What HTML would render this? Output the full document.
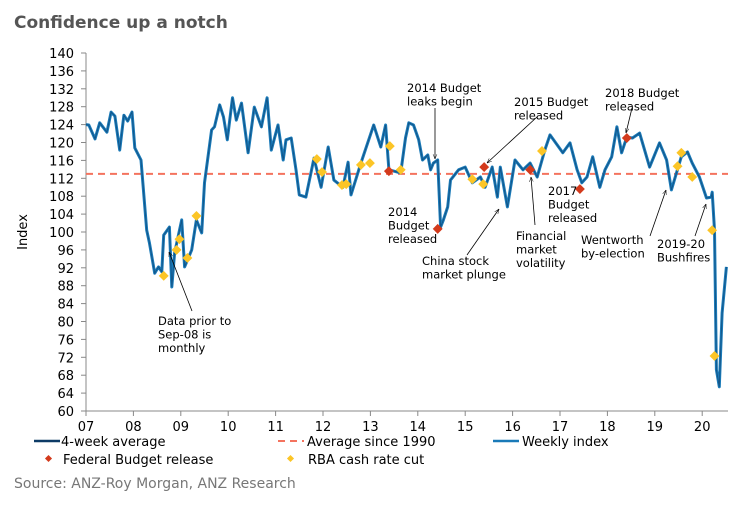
<!DOCTYPE html>
<html><head><meta charset="utf-8"><style>
body{margin:0;background:#fff;font-family:"Liberation Sans",Verdana,sans-serif;}
svg text{font-family:"DejaVu Sans","Liberation Sans",sans-serif;}
</style></head><body>
<svg id="c" width="751" height="506" viewBox="0 0 751 506">
<text x="14" y="28" font-size="17" font-weight="bold" fill="#555" style="font-family:'DejaVu Sans',sans-serif">Confidence up a notch</text>
<text transform="translate(27,232) rotate(-90)" font-size="13" text-anchor="middle" fill="#000">Index</text>
<g id="axes"></g><g id="plot"></g><g id="ann"></g>
<g font-size="13" fill="#000">
<line x1="34" y1="441" x2="60" y2="441" stroke="#0d3b66" stroke-width="2.5"/>
<text x="61" y="446">4-week average</text>
<line x1="278" y1="441" x2="304" y2="441" stroke="#f4735e" stroke-width="2" stroke-dasharray="7,5"/>
<text x="307" y="446">Average since 1990</text>
<line x1="493" y1="441" x2="519" y2="441" stroke="#1a7ab8" stroke-width="2.5"/>
<text x="522" y="446">Weekly index</text>
<rect x="46" y="456" width="5" height="5" fill="#d33a1c" transform="rotate(45 48.5 458.5)"/>
<text x="63" y="464">Federal Budget release</text>
<rect x="288" y="456" width="5" height="5" fill="#fcc526" transform="rotate(45 290.5 458.5)"/>
<text x="308" y="464">RBA cash rate cut</text>
</g>
<text x="14" y="488" font-size="14" fill="#777">Source: ANZ-Roy Morgan, ANZ Research</text>
</svg>
<script>
const years=[2007.00,2007.06,2007.19,2007.29,2007.44,2007.53,2007.61,2007.71,2007.80,2007.88,2007.97,2008.03,2008.16,2008.28,2008.34,2008.45,2008.53,2008.60,2008.64,2008.76,2008.81,2008.87,2009.02,2009.08,2009.23,2009.33,2009.44,2009.50,2009.65,2009.71,2009.82,2009.90,2009.98,2010.09,2010.17,2010.28,2010.42,2010.55,2010.70,2010.82,2010.91,2011.05,2011.16,2011.22,2011.33,2011.43,2011.50,2011.64,2011.81,2011.96,2012.11,2012.23,2012.42,2012.53,2012.59,2012.80,2013.07,2013.22,2013.32,2013.39,2013.64,2013.74,2013.81,2013.91,2014.02,2014.10,2014.21,2014.27,2014.33,2014.42,2014.48,2014.54,2014.63,2014.69,2014.86,2015.00,2015.15,2015.32,2015.42,2015.57,2015.68,2015.74,2015.89,2016.05,2016.22,2016.37,2016.52,2016.68,2016.79,2017.06,2017.21,2017.36,2017.46,2017.57,2017.69,2017.84,2017.95,2018.09,2018.20,2018.30,2018.41,2018.53,2018.68,2018.89,2019.10,2019.25,2019.35,2019.56,2019.69,2019.79,2019.94,2020.09,2020.19,2020.21,2020.26,2020.30,2020.36,2020.42,2020.51];
const weekly=[124,123.9,120.8,124.4,122.3,126.8,125.9,118.3,126.1,124.8,126.8,118.8,116.1,100.4,97.5,90.8,92.2,91.1,99.3,101.1,87.7,95.3,102.7,92.2,96,102.7,99.8,111,122.8,123.5,128.4,125.7,120.6,130,125,128.8,117.7,127.9,123.5,130,118.3,123.9,116.1,120.6,121,113.9,108.3,107.8,116.5,110,119,111.6,110,115.6,108.3,115.4,123.9,119,123.9,113.9,113.2,121,124.4,123.9,120.6,116.1,117.2,113.9,115.4,116.1,101.1,102.7,105.6,111.6,113.9,114.5,111,112.3,110,114.5,107.8,114.5,105.6,116.1,113.9,115.4,112.3,118.3,121.7,117.7,119.9,113.9,111,112.3,116.8,110,113.9,116.8,123.5,117.7,121.2,121,122.1,114.5,119.9,116.1,109.4,116.8,117.9,115.4,112.3,107.6,107.8,108.9,100.4,69.2,65.4,81.9,92.2,92.6];
const budgetYears=[2013.39,2014.42,2015.40,2016.37,2017.42,2018.41];
const budgetVals=[113.6,100.7,114.5,113.9,109.6,121];
const rbaYears=[2008.64,2008.91,2008.97,2009.14,2009.33,2011.87,2011.98,2012.40,2012.49,2012.80,2012.99,2013.41,2013.64,2015.15,2015.38,2016.62,2019.48,2019.56,2019.79,2020.21,2020.26];
const rbaVals=[90.2,96,98.4,94.2,103.6,116.3,113.4,110.5,110.7,115,115.4,119.2,113.9,111.8,110.7,118.1,114.7,117.7,112.3,100.4,72.3];
const yTicks=[60,64,68,72,76,80,84,88,92,96,100,104,108,112,116,120,124,128,132,136,140];
const xLabels=["07","08","09","10","11","12","13","14","15","16","17","18","19","20"];
const avgSince1990=113;

const NS="http://www.w3.org/2000/svg";
const X=y=>86+(y-2007)*47.4, Y=v=>411-(v-60)*4.475;
function mk(p,t,a){const e=document.createElementNS(NS,t);for(const k in a)e.setAttribute(k,a[k]);p.appendChild(e);return e;}
const ax=document.getElementById('axes'),pl=document.getElementById('plot'),an=document.getElementById('ann');
let e=mk(ax,'line',{x1:86,y1:53,x2:86,y2:411,stroke:'#888'});


e=mk(ax,'line',{x1:86,y1:411,x2:728,y2:411,stroke:'#888'});


yTicks.forEach(v=>{mk(ax,'line',{x1:81,y1:Y(v),x2:86,y2:Y(v),stroke:'#888'});
 const t=mk(ax,'text',{x:74,y:Y(v)+5,'font-size':13,'text-anchor':'end'});t.textContent=v;
 
 });
xLabels.forEach((l,i)=>{const x=X(2007+i);mk(ax,'line',{x1:x,y1:411,x2:x,y2:416,stroke:'#888'});
 const t=mk(ax,'text',{x:x,y:431,'font-size':13,'text-anchor':'middle'});t.textContent=l;
 
 });
e=mk(pl,'line',{x1:86,y1:Y(avgSince1990),x2:728,y2:Y(avgSince1990),stroke:'#f4735e','stroke-width':2,'stroke-dasharray':'7,5'});


const pts=years.map((y,i)=>X(y).toFixed(1)+','+Y(weekly[i]).toFixed(1)).join(' ');
e=mk(pl,'polyline',{points:pts,fill:'none',stroke:'#1a7ab8','stroke-width':3,'stroke-linejoin':'round'});


e=mk(pl,'polyline',{points:pts,fill:'none',stroke:'#0d3b66','stroke-width':0.9,opacity:0.6});


function dia(x,y,c,n){const d=mk(pl,'rect',{x:x-3.5,y:y-3.5,width:7,height:7,fill:c,transform:`rotate(45 ${x} ${y})`});
 
 }
rbaYears.forEach((y,i)=>dia(X(y),Y(rbaVals[i]),'#fcc526','rba-cut-marker'));
budgetYears.forEach((y,i)=>dia(X(y),Y(budgetVals[i]),'#d33a1c','budget-marker'));
mk(an,'defs',{}).innerHTML='<marker id="ar" viewBox="0 0 10 10" refX="10" refY="5" markerWidth="6" markerHeight="6" orient="auto"><path d="M0,1 L10,5 L0,9" fill="none" stroke="#000"/></marker>';
const notes=[
 [["Data prior to","Sep-08 is","monthly"],158,325,[192,311,169,252]],
 [["2014 Budget","leaks begin"],407,92,[435,108,435,159]],
 [["2015 Budget","released"],514,106,[537,117,487,163]],
 [["2018 Budget","released"],605,97,[632,108,626,133]],
 [["2014","Budget","released"],388,216,null],
 [["China stock","market plunge"],422,265,[467,255,499,209]],
 [["Financial","market","volatility"],516,240,[535,225,531,177]],
 [["2017","Budget","released"],548,195,null],
 [["Wentworth","by-election"],581,244,[650,236,666,190]],
 [["2019-20","Bushfires"],657,248,[695,236,706,204]]];
notes.forEach(n=>{const g=mk(an,'g',{});
 
 
 n[0].forEach((s,i)=>{const t=mk(g,'text',{x:n[1],y:n[2]+i*13.5,'font-size':11.5});t.textContent=s;});
 if(n[3])mk(g,'line',{x1:n[3][0],y1:n[3][1],x2:n[3][2],y2:n[3][3],stroke:'#000','stroke-width':0.8,'marker-end':'url(#ar)'});});
</script>
</body></html>
